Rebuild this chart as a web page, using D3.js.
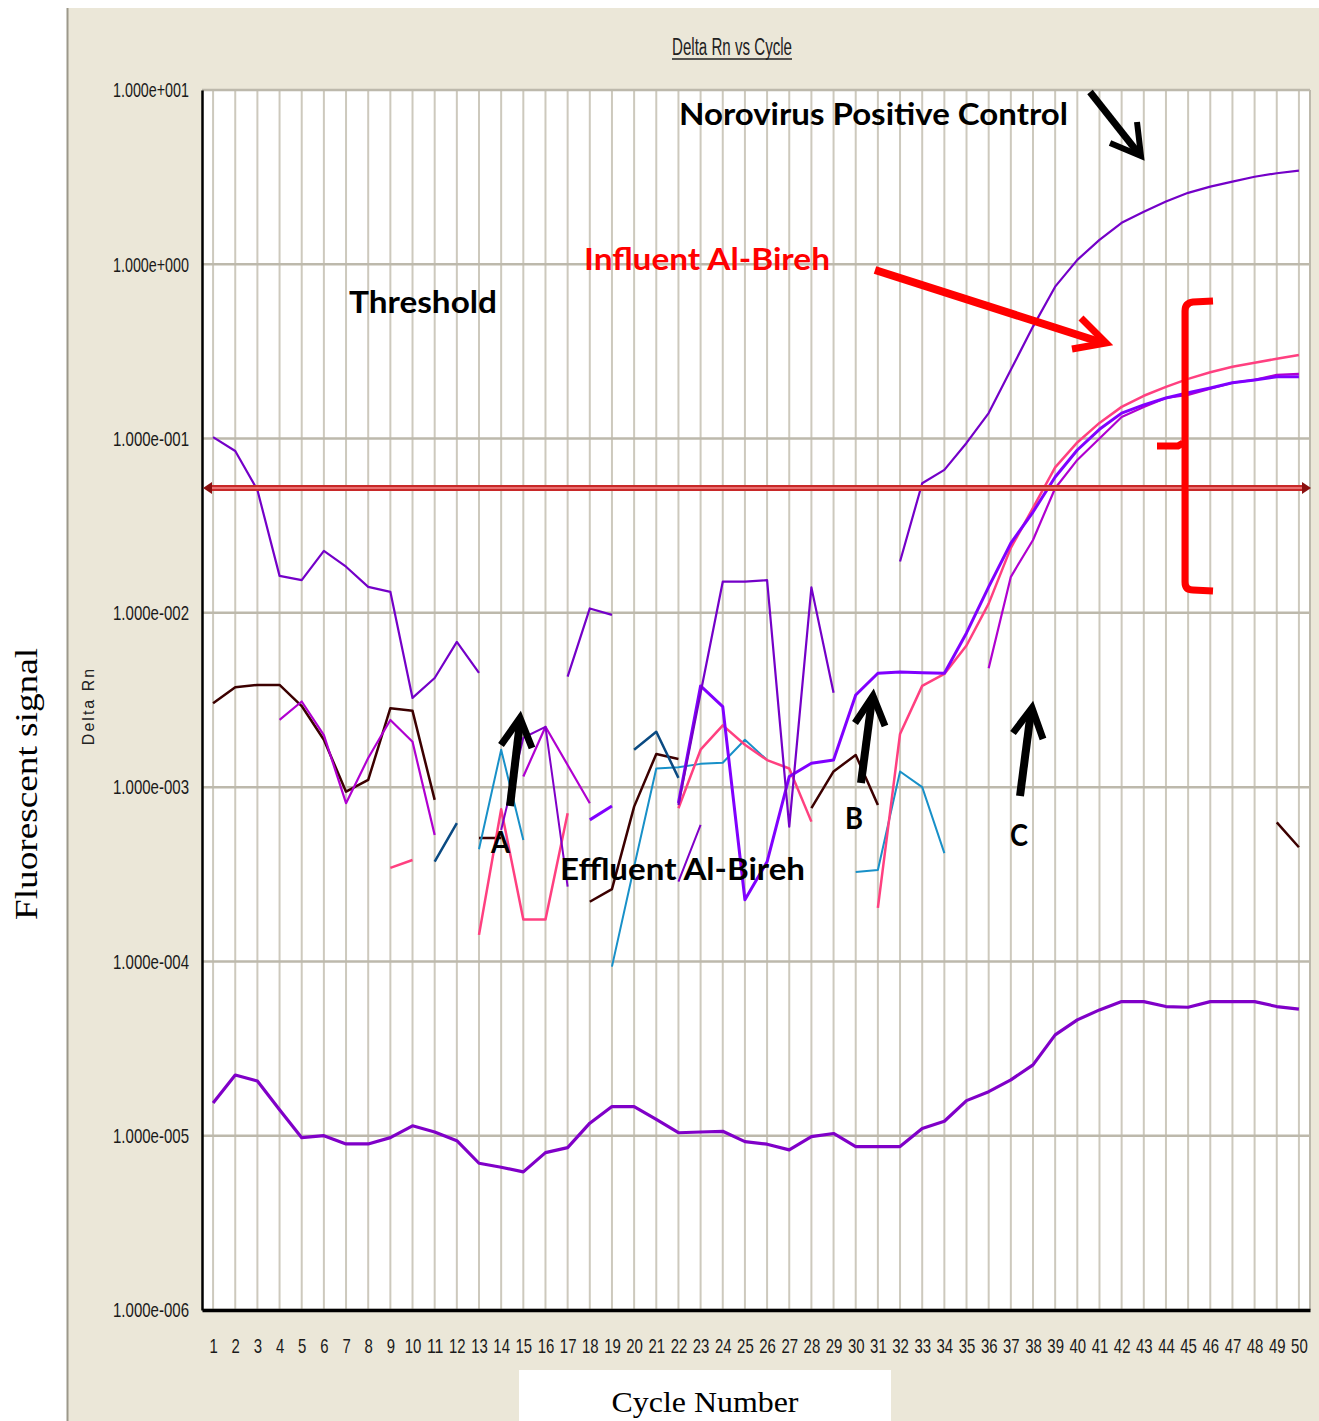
<!DOCTYPE html>
<html><head><meta charset="utf-8">
<script src="https://cdn.jsdelivr.net/npm/d3@7"></script>
<style>body{margin:0;background:#fff;} svg{display:block;}</style>
</head><body>
<svg id="c" width="1319" height="1421"></svg>
<script>
const _ = null;
const cycles = [1,2,3,4,5,6,7,8,9,10,11,12,13,14,15,16,17,18,19,20,21,22,23,24,25,26,27,28,29,30,31,32,33,34,35,36,37,38,39,40,41,42,43,44,45,46,47,48,49,50];
const yTickValues = [1e1,1e0,1e-1,1e-2,1e-3,1e-4,1e-5,1e-6];
const yTickLabels = ["1.000e+001","1.000e+000","1.000e-001","1.000e-002","1.000e-003","1.000e-004","1.000e-005","1.000e-006"];
const thresholdValue = 0.052;

// Delta Rn per cycle (null = not plotted)
const positiveControl = [
  0.102, 0.0849, 0.0507, 0.0163, 0.0154, 0.0227, 0.0184, 0.0141, 0.0132, 0.00325,
  0.00423, 0.00681, 0.00452, _, _, _, 0.00431, 0.0106, 0.00973, _,
  _, 0.00079, 0.00347, 0.0151, 0.0151, 0.0154, 0.000593, 0.0140, 0.00348, _,
  _, 0.0197, 0.0554, 0.0661, 0.0944, 0.140, 0.248, 0.439, 0.744, 1.06,
  1.38, 1.73, 2.00, 2.29, 2.57, 2.79, 2.98, 3.18, 3.33, 3.45];
const lowSample = [
  1.54e-5, 2.23e-5, 2.06e-5, 1.41e-5, 9.75e-6, 1.00e-5, 8.97e-6, 8.97e-6, 9.75e-6, 1.14e-5,
  1.05e-5, 9.37e-6, 6.95e-6, 6.59e-6, 6.20e-6, 8.00e-6, 8.55e-6, 1.18e-5, 1.47e-5, 1.47e-5,
  1.24e-5, 1.04e-5, 1.05e-5, 1.06e-5, 9.25e-6, 8.94e-6, 8.29e-6, 9.88e-6, 1.03e-5, 8.66e-6,
  8.66e-6, 8.66e-6, 1.10e-5, 1.21e-5, 1.59e-5, 1.79e-5, 2.09e-5, 2.55e-5, 3.79e-5, 4.62e-5,
  5.27e-5, 5.88e-5, 5.88e-5, 5.51e-5, 5.46e-5, 5.88e-5, 5.88e-5, 5.88e-5, 5.51e-5, 5.32e-5];
const influentA = [
  _, _, _, _, _, _, _, _, _, _,
  _, _, _, _, _, _, _, 6.49e-4, 7.80e-4, _,
  _, 8.12e-4, 3.81e-3, 2.90e-3, 2.26e-4, 3.73e-4, 1.15e-3, 1.37e-3, 1.43e-3, 3.38e-3,
  4.50e-3, 4.58e-3, 4.53e-3, 4.50e-3, 7.67e-3, 0.0141, 0.0251, 0.0379, 0.0602, 0.0860,
  0.113, 0.140, 0.156, 0.171, 0.183, 0.195, 0.209, 0.217, 0.226, 0.226];
const influentB = [
  _, _, _, _, _, _, _, _, 3.44e-4, 3.82e-4,
  _, _, 1.42e-4, 7.47e-4, 1.74e-4, 1.74e-4, 7.08e-4, _, _, _,
  _, 7.57e-4, 1.64e-3, 2.26e-3, 1.75e-3, 1.43e-3, 1.28e-3, 6.34e-4, _, _,
  2.03e-4, 2.02e-3, 3.81e-3, 4.46e-3, 6.50e-3, 0.0113, 0.0236, 0.0400, 0.0683, 0.0950,
  0.123, 0.152, 0.176, 0.198, 0.220, 0.240, 0.258, 0.272, 0.287, 0.302];
const influentC = [
  _, _, _, 2.43e-3, 3.10e-3, 1.99e-3, 8.09e-4, 1.47e-3, 2.43e-3, 1.82e-3,
  5.32e-4, _, _, _, 1.15e-3, 2.22e-3, 1.34e-3, 8.09e-4, _, _,
  _, _, _, _, _, _, _, _, _, _,
  _, _, _, _, _, 4.81e-3, 0.0161, 0.0262, 0.0519, 0.0754,
  0.100, 0.133, 0.152, 0.171, 0.178, 0.193, 0.209, 0.217, 0.232, 0.235];
const effluentA = [
  3.03e-3, 3.74e-3, 3.86e-3, 3.86e-3, 2.92e-3, 1.87e-3, 9.42e-4, 1.10e-3, 2.84e-3, 2.74e-3,
  8.45e-4, _, 5.11e-4, 5.11e-4, _, _, _, 2.20e-4, 2.60e-4, 7.73e-4,
  1.55e-3, 1.45e-3, _, _, _, _, _, 7.57e-4, 1.23e-3, 1.53e-3,
  7.90e-4, _, _, _, _, _, _, _, _, _,
  _, _, _, _, _, _, _, _, 6.28e-4, 4.52e-4];
const effluentB = [
  _, _, _, _, _, _, _, _, _, _,
  _, _, 4.40e-4, 1.64e-3, 4.98e-4, _, _, _, 9.34e-5, 3.49e-4,
  1.28e-3, 1.30e-3, 1.36e-3, 1.38e-3, 1.87e-3, 1.43e-3, _, _, _, 3.26e-4,
  3.35e-4, 1.23e-3, 1.00e-3, 4.18e-4, _, _, _, _, _, _,
  _, _, _, _, _, _, _, _, _, _];
const effluentC = [
  _, _, _, _, _, _, _, _, _, _,
  3.74e-4, 6.21e-4, _, _, _, _, _, _, _, 1.64e-3,
  2.08e-3, 1.13e-3, _, _, _, _, _, _, _, _,
  _, _, _, _, _, _, _, _, _, _,
  _, _, _, _, _, _, _, _, _, _];
const effluentD = [
  _, _, _, _, _, _, _, _, _, _,
  _, _, _, 5.68e-4, 1.92e-3, 2.22e-3, 2.69e-4, _, _, _,
  _, 2.87e-4, 6.07e-4, _, _, _, _, _, _, _,
  _, _, _, _, _, _, _, _, _, _,
  _, _, _, _, _, _, _, _, _, _];

const seriesStyle = [
  {values: lowSample,       color: "#8000c8", width: 3.2},
  {values: effluentA,       color: "#3c0000", width: 2.5},
  {values: effluentB,       color: "#1890c8", width: 2},
  {values: effluentC,       color: "#0a4a82", width: 2.5},
  {values: influentB,       color: "#ff4080", width: 2.5},
  {values: influentC,       color: "#b000d0", width: 2.2},
  {values: effluentD,       color: "#8000c8", width: 2},
  {values: influentA,       color: "#8000ff", width: 3},
  {values: positiveControl, color: "#7400c8", width: 2.2}
];

const svg = d3.select("#c");
const L = 202, R = 1310, T = 90, B = 1310;
const x = d3.scaleLinear().domain([0.5, 50.5]).range([L, R]);
const y = d3.scaleLog().domain([1e-6, 10]).range([B, T]);

// panel
svg.append("rect").attr("x",67).attr("y",8).attr("width",1252).attr("height",1413).attr("fill","#ebe7d8");
svg.append("line").attr("x1",67.5).attr("x2",67.5).attr("y1",8).attr("y2",1421).attr("stroke","#9c988a").attr("stroke-width",2);
svg.append("rect").attr("x",L).attr("y",T).attr("width",R-L).attr("height",B-T).attr("fill","#fff");

// grid
svg.append("g").selectAll("line").data(cycles).join("line")
  .attr("x1",d=>x(d)).attr("x2",d=>x(d)).attr("y1",T).attr("y2",B)
  .attr("stroke","#cdc9bd").attr("stroke-width",2);
svg.append("g").selectAll("line").data(yTickValues).join("line")
  .attr("x1",L).attr("x2",R).attr("y1",d=>y(d)).attr("y2",d=>y(d))
  .attr("stroke","#bdb9ac").attr("stroke-width",2.5);
svg.append("line").attr("x1",R).attr("x2",R).attr("y1",T).attr("y2",B).attr("stroke","#bdb9ac").attr("stroke-width",2);

// curves
const line = d3.line().defined(d=>d!=null).x((d,i)=>x(cycles[i])).y(d=>y(d));
svg.append("g").selectAll("path").data(seriesStyle).join("path")
  .attr("d",s=>line(s.values)).attr("fill","none")
  .attr("stroke",s=>s.color).attr("stroke-width",s=>s.width).attr("stroke-linejoin","round");

// axes
const yAxis = d3.axisLeft(y).tickValues(yTickValues).tickFormat((d,i)=>yTickLabels[i]).tickSize(0).tickSizeOuter(0).tickPadding(13);
const gy = svg.append("g").attr("transform",`translate(${L},0)`).call(yAxis);
gy.select(".domain").attr("stroke","#000").attr("stroke-width",2.5);
gy.selectAll("text").attr("font-family","'Liberation Sans Narrow','Liberation Sans',Arial,sans-serif")
  .attr("font-size",21).attr("fill","#1a1a1a").attr("textLength",76).attr("lengthAdjust","spacingAndGlyphs");

const xAxis = d3.axisBottom(x).tickValues(cycles).tickFormat(d=>String(d)).tickSize(0).tickSizeOuter(0).tickPadding(28);
const gx = svg.append("g").attr("transform",`translate(0,${B})`).call(xAxis);
gx.select(".domain").attr("stroke","#000").attr("stroke-width",3.5);
gx.selectAll("text").attr("font-family","'Liberation Sans Narrow','Liberation Sans',Arial,sans-serif")
  .attr("font-size",21).attr("fill","#1a1a1a")
  .attr("textLength",d=>String(d).length*8.3).attr("lengthAdjust","spacingAndGlyphs");

// threshold
const ty = y(thresholdValue);
svg.append("line").attr("x1",L+6).attr("x2",R-6).attr("y1",ty).attr("y2",ty).attr("stroke","#c82828").attr("stroke-width",6);
svg.append("line").attr("x1",L+6).attr("x2",R-6).attr("y1",ty).attr("y2",ty).attr("stroke","#f48a8a").attr("stroke-width",1.5);
svg.append("path").attr("d",`M${L+1},${ty} L${L+10},${ty-6} L${L+10},${ty+6} Z`).attr("fill","#8a1010");
svg.append("path").attr("d",`M${R+1},${ty} L${R-8},${ty-6} L${R-8},${ty+6} Z`).attr("fill","#8a1010");

// title
svg.append("text").attr("x",672).attr("y",55).text("Delta Rn vs Cycle")
  .attr("font-family","'Liberation Sans Narrow','Liberation Sans',Arial,sans-serif").attr("font-size",23)
  .attr("fill","#222").attr("textLength",120).attr("lengthAdjust","spacingAndGlyphs");
svg.append("line").attr("x1",672).attr("x2",792).attr("y1",59).attr("y2",59).attr("stroke","#222").attr("stroke-width",1.5);

// axis titles
svg.append("text").attr("transform","translate(94,706) rotate(-90)").attr("text-anchor","middle").text("Delta Rn")
  .attr("font-family","'Liberation Sans',Arial,sans-serif").attr("font-size",16).attr("fill","#222")
  .attr("letter-spacing",2);
svg.append("text").attr("transform","translate(37,784) rotate(-90)").attr("text-anchor","middle").text("Fluorescent signal")
  .attr("font-family","'Liberation Serif','Times New Roman',serif").attr("font-size",32).attr("fill","#000")
  .attr("textLength",272).attr("lengthAdjust","spacingAndGlyphs");
svg.append("rect").attr("x",519).attr("y",1370).attr("width",372).attr("height",51).attr("fill","#fff");
svg.append("text").attr("x",705).attr("y",1412).attr("text-anchor","middle").text("Cycle Number")
  .attr("font-family","'Liberation Serif','Times New Roman',serif").attr("font-size",30).attr("fill","#000")
  .attr("textLength",187).attr("lengthAdjust","spacingAndGlyphs");

// annotations
const ann = [
  {t:"Norovirus Positive Control", x:679, y:125, w:389, c:"#000"},
  {t:"Influent Al-Bireh", x:584, y:270, w:246, c:"#ff0000"},
  {t:"Threshold", x:349, y:313, w:148, c:"#000"},
  {t:"Effluent Al-Bireh", x:560, y:880, w:245, c:"#000"},
  {t:"A", x:491, y:853, w:19, c:"#000"},
  {t:"B", x:845, y:829, w:18, c:"#000"},
  {t:"C", x:1010, y:846, w:18, c:"#000"}
];
svg.append("g").selectAll("text").data(ann).join("text")
  .attr("x",d=>d.x).attr("y",d=>d.y).text(d=>d.t).attr("fill",d=>d.c)
  .attr("font-family","Lato,'Open Sans',sans-serif").attr("font-weight",700).attr("font-size",30)
  .attr("textLength",d=>d.w).attr("lengthAdjust","spacingAndGlyphs");

const arrows = [
  {s:[[1090,92],[1139,154]], h:[[1110,143],[1141,156],[1137,122]], c:"#000", w:7},
  {s:[[875,270],[1103,343]], h:[[1072,349],[1106,343],[1081,318]], c:"#ff0000", w:8},
  {s:[[510,806],[520,722]], h:[[501,745],[520,718],[532,748]], c:"#000", w:8},
  {s:[[861,783],[872,699]], h:[[855,723],[873,696],[885,726]], c:"#000", w:8},
  {s:[[1020,796],[1031,711]], h:[[1013,733],[1032,708],[1043,739]], c:"#000", w:8}
];
const pl = d3.line();
arrows.forEach(a=>{
  svg.append("path").attr("d",pl(a.s)).attr("stroke",a.c).attr("stroke-width",a.w).attr("fill","none");
  svg.append("path").attr("d",pl(a.h)).attr("stroke",a.c).attr("stroke-width",a.w-1).attr("fill","none").attr("stroke-linejoin","miter");
});

// bracket
svg.append("path").attr("d","M1213,301 L1193,302 Q1185,303 1185,311 L1185,582 Q1185,590 1193,590 L1213,591")
  .attr("fill","none").attr("stroke","#ff0000").attr("stroke-width",7);
svg.append("path").attr("d","M1157,446 L1178,446 L1183,443")
  .attr("fill","none").attr("stroke","#ff0000").attr("stroke-width",7);
</script>
</body></html>
